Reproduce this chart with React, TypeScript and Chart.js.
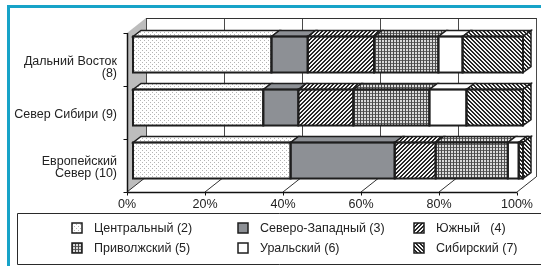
import React, { useEffect, useRef } from "react";
import { Chart, registerables } from "chart.js";

Chart.register(...registerables);

const categories: (string | string[])[] = [
  ["", "Дальний Восток", "(8)"],
  "Север Сибири (9)",
  ["Европейский", "Север (10)"],
];
const seriesNames = [
  "Центральный (2)",
  "Северо-Западный (3)",
  "Южный   (4)",
  "Приволжский (5)",
  "Уральский (6)",
  "Сибирский (7)",
];
const central = [35.5, 33.4, 40.4];
const northwest = [9.3, 9.0, 26.7];
const south = [17.0, 14.1, 10.5];
const volga = [16.5, 19.5, 18.5];
const ural = [6.2, 9.5, 2.8];
const siberia = [15.5, 14.5, 1.1];
const xTicks = [0, 20, 40, 60, 80, 100];

const FONT = "'Liberation Sans', Arial, sans-serif";
const FRONT = { dx: -6, dy: 5 };
const BACK = { dx: 13, dy: -10 };
const DEPTH = { dx: 8, dy: -6 };

function makePattern(kind: string): string | CanvasPattern {
  if (kind === "gray") return "#8d9095";
  if (kind === "white") return "#ffffff";
  const c = document.createElement("canvas");
  const n = kind === "grid" ? 3 : 4;
  c.width = n;
  c.height = n;
  const g = c.getContext("2d")!;
  if (kind === "dots") {
    g.fillStyle = "#ffffff";
    g.fillRect(0, 0, n, n);
    g.fillStyle = "#b4b4b4";
    g.fillRect(0, 0, 1, 1);
    g.fillRect(2, 2, 1, 1);
  } else if (kind === "grid") {
    g.fillStyle = "#dadada";
    g.fillRect(0, 0, n, n);
    g.fillStyle = "#666666";
    g.fillRect(0, 0, n, 1);
    g.fillStyle = "#4a4a4a";
    g.fillRect(0, 0, 1, n);
  } else {
    for (let y = 0; y < n; y++) {
      for (let x = 0; x < n; x++) {
        const k = kind === "slash" ? (x + y) % n : (x - y + n) % n;
        g.fillStyle = k < 2 ? "#262626" : "#f4f4f4";
        g.fillRect(x, y, 1, 1);
      }
    }
  }
  return g.createPattern(c, "repeat")!;
}

const kinds = ["dots", "gray", "slash", "grid", "white", "backslash"];

export default function App() {
  const ref = useRef<HTMLCanvasElement>(null);

  useEffect(() => {
    const fills = kinds.map(makePattern);
    const values = [central, northwest, south, volga, ural, siberia];

    const line = (ctx: CanvasRenderingContext2D, x1: number, y1: number, x2: number, y2: number) => {
      ctx.beginPath();
      ctx.moveTo(x1, y1);
      ctx.lineTo(x2, y2);
      ctx.stroke();
    };

    const threeD = {
      id: "threeD",
      beforeDraw(chart: any) {
        const ctx = chart.ctx as CanvasRenderingContext2D;
        ctx.save();
        ctx.fillStyle = "#ffffff";
        ctx.fillRect(0, 0, chart.width, chart.height);
        ctx.fillStyle = "#17a3c8";
        ctx.fillRect(7, 5, chart.width - 7, 3);
        ctx.fillRect(7, 5, 3, chart.height - 5);
        ctx.restore();
      },
      beforeDatasetsDraw(chart: any) {
        const ctx = chart.ctx as CanvasRenderingContext2D;
        const a = chart.chartArea;
        const x = chart.scales.x;
        ctx.save();
        // left side wall
        ctx.fillStyle = "#bdbdbd";
        ctx.beginPath();
        ctx.moveTo(a.left + FRONT.dx, a.bottom + FRONT.dy);
        ctx.lineTo(a.left + BACK.dx, a.bottom + BACK.dy);
        ctx.lineTo(a.left + BACK.dx, a.top + BACK.dy);
        ctx.lineTo(a.left + FRONT.dx, a.top + FRONT.dy);
        ctx.closePath();
        ctx.fill();
        // back wall gridlines
        ctx.strokeStyle = "#4a4a4a";
        ctx.lineWidth = 1;
        for (const v of xTicks) {
          const px = Math.round(x.getPixelForValue(v) + BACK.dx) + 0.5;
          line(ctx, px, a.top + BACK.dy, px, a.bottom + BACK.dy);
        }
        ctx.strokeStyle = "#333";
        line(ctx, a.left + BACK.dx, a.top + BACK.dy + 0.5, a.right + BACK.dx + 0.5, a.top + BACK.dy + 0.5);
        // floor diagonals
        ctx.strokeStyle = "#333";
        for (const v of xTicks) {
          const px = x.getPixelForValue(v);
          line(ctx, px + FRONT.dx, a.bottom + FRONT.dy, px + BACK.dx, a.bottom + BACK.dy);
        }
        // front axes
        ctx.strokeStyle = "#111";
        ctx.lineWidth = 1.5;
        const fx = Math.round(a.left + FRONT.dx) + 0.5;
        const fb = Math.round(a.bottom + FRONT.dy) + 0.5;
        line(ctx, fx, a.top + FRONT.dy, fx, fb);
        line(ctx, fx, fb, x.getPixelForValue(100) + FRONT.dx, fb);
        ctx.lineWidth = 1;
        const h = (a.bottom - a.top) / categories.length;
        for (let k = 0; k <= categories.length; k++) {
          const yy = Math.round(a.top + FRONT.dy + k * h) + 0.5;
          line(ctx, fx - 4, yy, fx, yy);
        }
        for (const v of xTicks) {
          const px = Math.round(x.getPixelForValue(v) + FRONT.dx) + 0.5;
          line(ctx, px, fb, px, fb + 3);
        }
        ctx.restore();
      },
      afterDatasetsDraw(chart: any) {
        const ctx = chart.ctx as CanvasRenderingContext2D;
        ctx.save();
        ctx.strokeStyle = "#1e1e1e";
        ctx.lineJoin = "miter";
        const nDs = chart.data.datasets.length;
        for (let d = 0; d < nDs; d++) {
          const meta = chart.getDatasetMeta(d);
          meta.data.forEach((el: any) => {
            const x1 = Math.min(el.base, el.x);
            const x2 = Math.max(el.base, el.x);
            const y1 = el.y - el.height / 2;
            const y2 = el.y + el.height / 2;
            ctx.fillStyle = fills[d] as any;
            ctx.lineWidth = 1.5;
            ctx.beginPath();
            ctx.moveTo(x1, y1);
            ctx.lineTo(x1 + DEPTH.dx, y1 + DEPTH.dy);
            ctx.lineTo(x2 + DEPTH.dx, y1 + DEPTH.dy);
            ctx.lineTo(x2, y1);
            ctx.closePath();
            ctx.fill();
            ctx.stroke();
            if (d === nDs - 1) {
              ctx.beginPath();
              ctx.moveTo(x2, y1);
              ctx.lineTo(x2 + DEPTH.dx, y1 + DEPTH.dy);
              ctx.lineTo(x2 + DEPTH.dx, y2 + DEPTH.dy);
              ctx.lineTo(x2, y2);
              ctx.closePath();
              ctx.fill();
              ctx.stroke();
            }
            ctx.lineWidth = 2;
            ctx.strokeRect(x1, y1, x2 - x1, y2 - y1);
          });
        }
        ctx.restore();
      },
      afterDraw(chart: any) {
        const ctx = chart.ctx as CanvasRenderingContext2D;
        ctx.save();
        ctx.strokeStyle = "#2a2a2a";
        ctx.lineWidth = 1;
        ctx.beginPath();
        ctx.moveTo(chart.width + 2, 213.5);
        ctx.lineTo(17.5, 213.5);
        ctx.lineTo(17.5, 264.5);
        ctx.lineTo(chart.width + 2, 264.5);
        ctx.stroke();
        const colX = [72, 238, 414];
        const rowY = [223, 243];
        ctx.font = `12.5px ${FONT}`;
        ctx.textBaseline = "middle";
        ctx.textAlign = "left";
        seriesNames.forEach((name, i) => {
          const cx = colX[i % 3];
          const cy = rowY[Math.floor(i / 3)];
          ctx.fillStyle = fills[i] as any;
          ctx.fillRect(cx, cy, 10, 10);
          ctx.strokeStyle = "#1e1e1e";
          ctx.lineWidth = 1.5;
          ctx.strokeRect(cx, cy, 10, 10);
          ctx.fillStyle = "#222";
          ctx.fillText(name, cx + 22, cy + 5.5);
        });
        ctx.restore();
      },
    };

    const chart = new Chart(ref.current!, {
      type: "bar",
      data: {
        labels: categories as any,
        datasets: seriesNames.map((name, i) => ({
          label: name,
          data: values[i],
          backgroundColor: fills[i] as any,
          borderWidth: 0,
          barPercentage: 0.68,
          categoryPercentage: 1,
        })),
      },
      options: {
        indexAxis: "y",
        animation: false,
        responsive: false,
        devicePixelRatio: 1,
        events: [],
        layout: { padding: { left: 0, right: 18, top: 28, bottom: 53 } },
        plugins: {
          legend: { display: false },
          tooltip: { enabled: false },
          title: { display: false },
        },
        scales: {
          x: {
            stacked: true,
            min: 0,
            max: 100,
            grid: { display: false, drawTicks: true, tickLength: 10 },
            border: { display: false },
            afterFit: (s: any) => {
              s.height = 26;
            },
            afterBuildTicks: (s: any) => {
              s.ticks = xTicks.map((v) => ({ value: v }));
            },
            ticks: {
              padding: 0,
              labelOffset: -6,
              color: "#222",
              font: { family: FONT, size: 12.5 },
              callback: (v: any) => `${v}%`,
            },
          },
          y: {
            stacked: true,
            grid: { display: false, drawTicks: true, tickLength: 16 },
            border: { display: false },
            afterFit: (s: any) => {
              s.width = 133;
            },
            ticks: {
              padding: 0,
              labelOffset: 7,
              color: "#222",
              font: { family: FONT, size: 12.5, lineHeight: 1.0 },
            },
          },
        },
      },
      plugins: [threeD],
    });
    return () => chart.destroy();
  }, []);

  return (
    <div style={{ position: "fixed", left: 0, top: 0, width: 541, height: 266 }}>
      <canvas ref={ref} width={541} height={266} style={{ display: "block" }} />
    </div>
  );
}
